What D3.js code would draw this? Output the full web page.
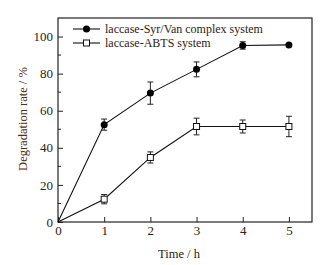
<!DOCTYPE html>
<html>
<head>
<meta charset="utf-8">
<script src="https://cdn.jsdelivr.net/npm/d3@7"></script>
<style>
  body { margin: 0; background: #fff; overflow: hidden; }
  svg { display: block; }
  text { font-family: 'Liberation Serif', 'Times New Roman', serif; }
</style>
</head>
<body>
<svg width="334" height="265"></svg>
<script>
const times = [0, 1, 2, 3, 4, 5]
const synValues = [0, 52.5, 69.5, 82.3, 95.2, 95.5]
const synErrors = [0, 3, 6, 4, 2, 0.5]
const abtsValues = [0, 12.3, 34.8, 51.5, 51.5, 51.5]
const abtsErrors = [0, 2.5, 3, 4.5, 3.5, 5.5]
const xTicks = [0, 1, 2, 3, 4, 5]
const yTicks = [0, 20, 40, 60, 80, 100]
const seriesNames = ['laccase-Syr/Van complex system', 'laccase-ABTS system']

const svg = d3.select('svg')
const margin = { top: 18, right: 22, bottom: 43, left: 58 }
const width = +svg.attr('width')
const height = +svg.attr('height')
const innerWidth = width - margin.left - margin.right
const innerHeight = height - margin.top - margin.bottom
const textColor = '#2e2212'

const xScale = d3.scaleLinear().domain([0, 5.5]).range([0, innerWidth])
const yScale = d3.scaleLinear().domain([0, 110]).range([innerHeight, 0])

const g = svg.append('g')
  .attr('transform', `translate(${margin.left}, ${margin.top})`)

// frame
g.append('rect')
  .attr('width', innerWidth)
  .attr('height', innerHeight)
  .attr('fill', 'none')
  .attr('stroke', '#222')
  .attr('stroke-width', 1.2)

const xAxis = g.append('g')
  .attr('transform', `translate(0, ${innerHeight})`)
  .call(d3.axisBottom(xScale).tickValues(xTicks).tickFormat(d3.format('d')).tickSize(-5).tickPadding(4))
xAxis.select('.domain').remove()

const yAxis = g.append('g')
  .call(d3.axisLeft(yScale).tickValues(yTicks).tickFormat(d3.format('d')).tickSize(-5).tickPadding(5))
yAxis.select('.domain').remove()

// minor y ticks
g.append('g').selectAll('line')
  .data(d3.range(10, 110, 20))
  .enter().append('line')
  .attr('x1', 0).attr('x2', 3)
  .attr('y1', d => yScale(d)).attr('y2', d => yScale(d))
  .attr('stroke', '#222')

g.selectAll('.tick line').attr('stroke', '#222')
g.selectAll('.tick text')
  .attr('font-size', 13)
  .attr('fill', textColor)

g.append('text')
  .attr('x', innerWidth / 2 - 6)
  .attr('y', innerHeight + 36)
  .attr('text-anchor', 'middle')
  .attr('font-size', 12.5)
  .attr('fill', textColor)
  .text('Time / h')

g.append('text')
  .attr('transform', `translate(-31, ${innerHeight / 2 - 1}) rotate(-90)`)
  .attr('text-anchor', 'middle')
  .attr('font-size', 12.5)
  .attr('fill', '#4a3218')
  .text('Degradation rate / %')

const line = d3.line()
  .x(d => xScale(d.t))
  .y(d => yScale(d.v))

const makeSeries = (values, errors) => times.map((t, i) => ({ t, v: values[i], e: errors[i] }))
const syn = makeSeries(synValues, synErrors)
const abts = makeSeries(abtsValues, abtsErrors)

const drawErrors = data => {
  const eg = g.append('g').attr('stroke', '#222').attr('stroke-width', 1)
  data.filter(d => d.e > 0).forEach(d => {
    const x = xScale(d.t)
    eg.append('line').attr('x1', x).attr('x2', x)
      .attr('y1', yScale(d.v - d.e)).attr('y2', yScale(d.v + d.e))
    eg.append('line').attr('x1', x - 3).attr('x2', x + 3)
      .attr('y1', yScale(d.v - d.e)).attr('y2', yScale(d.v - d.e))
    eg.append('line').attr('x1', x - 3).attr('x2', x + 3)
      .attr('y1', yScale(d.v + d.e)).attr('y2', yScale(d.v + d.e))
  })
}

drawErrors(syn)
drawErrors(abts)

g.append('path').datum(syn)
  .attr('d', line).attr('fill', 'none').attr('stroke', '#111').attr('stroke-width', 1.1)
g.append('path').datum(abts)
  .attr('d', line).attr('fill', 'none').attr('stroke', '#111').attr('stroke-width', 1.1)

g.selectAll('circle.syn').data(syn.slice(1))
  .enter().append('circle')
  .attr('cx', d => xScale(d.t))
  .attr('cy', d => yScale(d.v))
  .attr('r', 3.5)
  .attr('fill', '#000')

g.selectAll('rect.abts').data(abts.slice(1))
  .enter().append('rect')
  .attr('x', d => xScale(d.t) - 3)
  .attr('y', d => yScale(d.v) - 3)
  .attr('width', 6).attr('height', 6)
  .attr('fill', '#fff').attr('stroke', '#111').attr('stroke-width', 1)

// legend
const legend = g.append('g').attr('transform', 'translate(15, 11)')
seriesNames.forEach((name, i) => {
  const row = legend.append('g').attr('transform', `translate(0, ${i * 14})`)
  row.append('line').attr('x1', 0).attr('x2', 27).attr('y1', 0).attr('y2', 0)
    .attr('stroke', '#111').attr('stroke-width', 1.1)
  if (i === 0) {
    row.append('circle').attr('cx', 13.5).attr('cy', 0).attr('r', 3.5).attr('fill', '#000')
  } else {
    row.append('rect').attr('x', 10.5).attr('y', -3).attr('width', 6).attr('height', 6)
      .attr('fill', '#fff').attr('stroke', '#111')
  }
  row.append('text').attr('x', 32).attr('y', 4)
    .attr('font-size', 12).attr('fill', textColor).text(name)
})
</script>
</body>
</html>
